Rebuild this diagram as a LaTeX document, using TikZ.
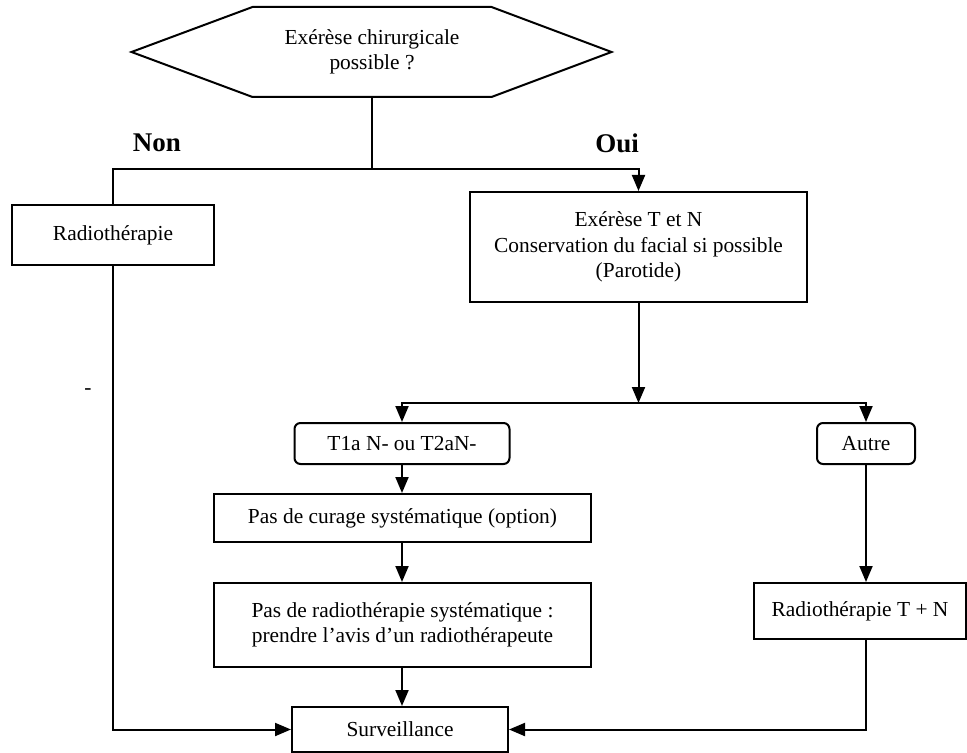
\documentclass[tikz,border=0pt]{standalone}
\usepackage{fontspec}
\setmainfont{Liberation Serif}
\usepackage{tikz}
\usetikzlibrary{arrows.meta,positioning}
\tikzset{
  flow/.style={draw,line width=1pt,inner sep=2pt,align=center,
    font=\fontsize{10.7}{12.75}\selectfont},
  flowround/.style={flow,rounded corners=3pt},
  link/.style={line width=1pt},
  arrow/.style={link,-{Triangle[length=8pt,width=6.5pt]}},
  answer/.style={font=\fontsize{13.5}{16}\selectfont\bfseries}
}

\begin{document}
\begin{tikzpicture}[x=0.5pt,y=-0.5pt]
  \useasboundingbox (0,0) rectangle (967,753);
  % question
  \node[flow,draw=none,outer sep=0pt,minimum width=119.5pt,minimum height=45pt] (ask) at (372,52)
    {Exérèse chirurgicale\\possible ?};
  \draw[link] (ask.north west) -- (ask.north east) -- ++(120,45) -- (ask.south east)
    -- (ask.south west) -- ++(-121,-45) -- cycle;
  \node[answer] (non) at (157,143) {Non};
  \node[answer] (oui) at (617,143) {Oui};
  \coordinate (split) at (372,169);
  % branches
  \node[flow,minimum width=101pt,minimum height=30pt] (radio) at (113,235) {Radiothérapie};
  \node[flow,minimum width=168.5pt,minimum height=55pt] (resect) at (638.5,247)
    {Exérèse T et N\\Conservation du facial si possible\\(Parotide)};
  \coordinate (fork) at (638.5,403);
  \node[flowround,minimum width=107.5pt,minimum height=20.5pt] (t1a) at (402,443.5) {T1a N- ou T2aN-};
  \node[flowround,minimum width=49pt,minimum height=20.5pt] (autre) at (866,443.5) {Autre};
  \node[flow,minimum width=188.5pt,minimum height=24pt] (curage) at (402.5,518)
    {Pas de curage systématique (option)};
  \node[flow,minimum width=188.5pt,minimum height=42pt] (radiosys) at (402.5,625)
    {Pas de radiothérapie systématique :\\prendre l’avis d’un radiothérapeute};
  \node[flow,minimum width=106pt,minimum height=28pt] (radtn) at (860,611) {Radiothérapie T + N};
  \node[flow,minimum width=108pt,minimum height=22.5pt] (surv) at (400,729.5) {Surveillance};
  \node[font=\fontsize{10.7}{12.75}\selectfont] (dash) at (88,392) {-};
  % connectors
  \draw[link] (ask.south) -- (split);
  \draw[link] (split) -| (radio.north);
  \draw[arrow] (split) -| (resect.north);
  \draw[arrow] (resect) -- (fork);
  \draw[arrow] (fork) -| (t1a);
  \draw[arrow] (fork) -| (autre);
  \draw[arrow] (t1a) -- (t1a |- curage.north);
  \draw[arrow] (curage.south -| t1a) -- (t1a |- radiosys.north);
  \draw[arrow] (radiosys.south -| t1a) -- (t1a |- surv.north);
  \draw[arrow] (autre) -- (autre |- radtn.north);
  \draw[arrow] (radio) |- (surv);
  \draw[arrow] (radtn.south -| autre) |- (surv);
\end{tikzpicture}
\end{document}
